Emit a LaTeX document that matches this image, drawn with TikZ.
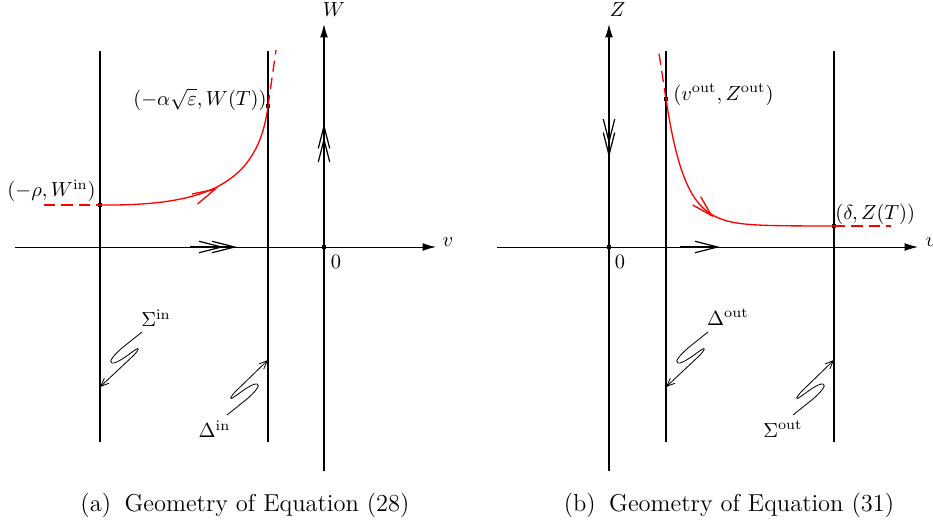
\documentclass[tikz,border=0pt]{standalone}
\usetikzlibrary{arrows.meta}
\begin{document}
\begin{tikzpicture}[x=0.49pt,y=-0.49pt,
  ln/.style={line width=0.6pt},
  haxis/.style={line width=0.5pt,-{Latex[length=6.5pt,width=3.8pt]}},
  vaxis/.style={line width=0.6pt,-{Latex[length=6.5pt,width=3.8pt]}},
  flow/.style={line width=0.6pt,-{Straight Barb[length=11pt,width=5.6pt]}},
  traj/.style={red,line width=0.65pt},
  head/.style={red,line width=0.65pt,line join=miter},
  ext/.style={red,line width=0.65pt,dash pattern=on 5.5pt off 3pt},
  dot/.style={fill=black,inner sep=0pt,minimum size=2.2pt,rectangle},
  lead/.style={line width=0.4pt,-{Straight Barb[length=4pt,width=3.4pt]}},
  lbl/.style={inner sep=0pt},
]
\useasboundingbox (0,0) rectangle (933,523);

% ---------------- left panel ----------------
\coordinate (hLa) at (15,247);
\coordinate (hLb) at (436,247);
\coordinate (wB) at (324,471);
\coordinate (wT) at (324,24);
\coordinate (sLt) at (100,51);
\coordinate (sLb) at (100,442);
\coordinate (dLt) at (268,51);
\coordinate (dLb) at (268,442);

\draw[ln] (sLt) -- (sLb);
\draw[ln] (dLt) -- (dLb);
\draw[haxis] (hLa) -- (hLb);
\draw[vaxis] (wB) -- (wT);

\node (vL) at (448,242) {$v$};
\node (Wl) at (334,10) {$W$};
\node (zeroL) at (336,262) {$0$};
\node[dot] (oL) at (324,247) {};

% flow arrows
\coordinate (fa0) at (190,247);
\coordinate (fa1) at (224,247);
\coordinate (fa2) at (237,247);
\draw[flow] (fa0) -- (fa1);
\draw[flow] (fa0) -- (fa2);
\coordinate (fw0) at (324,190);
\coordinate (fw1) at (324,137);
\coordinate (fw2) at (324,123.5);
\draw[flow] (fw0) -- (fw1);
\draw[flow] (fw0) -- (fw2);

% trajectory
\node[dot] (pA) at (100,205) {};
\node[dot] (pB) at (268,106) {};
\coordinate (eA) at (44,205);
\coordinate (eB) at (276,50);
\draw[ext] (eA) -- (pA.center);
\draw[ext] (pB.center) -- (eB);
\draw[traj] (pA.center) .. controls (205,206) and (258,185) .. (pB.center);
\coordinate (tipL) at (215,189.3);
\draw[head] (192,194) -- (tipL) -- (197.5,204);

\node[lbl, anchor=base east] (lA) at (96,196.5) {$(-\rho, W^{\mathrm{in}})$};
\node[lbl, anchor=base east] (lB) at (267,105) {$(-\alpha\sqrt{\varepsilon}, W(T))$};

% section labels
\node (Sin) at (156,318) {$\Sigma^{\mathrm{in}}$};
\node (Din) at (214.5,429) {$\Delta^{\mathrm{in}}$};
\coordinate (Sin0) at (142,332);
\coordinate (Sin1) at (100,387);
\coordinate (Din0) at (227,415);
\coordinate (Din1) at (268,360);
\draw[lead] (Sin0) -- (122,348) .. controls (114,355) and (108,362) .. (112,363)
  .. controls (117,364) and (129,354) .. (135,350)
  .. controls (141,346) and (138,351) .. (133,356) -- (Sin1);
\draw[lead] (Din0) -- (247,399) .. controls (255,392) and (261,385) .. (257,384)
  .. controls (252,383) and (240,393) .. (234,397)
  .. controls (228,401) and (231,396) .. (236,391) -- (Din1);

\node[anchor=base] (capA) at (245,511) {\large (a)\hspace{0.55em}Geometry of Equation (28)};

% ---------------- right panel ----------------
\coordinate (hRa) at (497,247);
\coordinate (hRb) at (918,247);
\coordinate (zB) at (609,471);
\coordinate (zT) at (609,24);
\coordinate (dRt) at (666,51);
\coordinate (dRb) at (666,442);
\coordinate (sRt) at (834,51);
\coordinate (sRb) at (834,442);

\draw[ln] (dRt) -- (dRb);
\draw[ln] (sRt) -- (sRb);
\draw[haxis] (hRa) -- (hRb);
\draw[vaxis] (zB) -- (zT);

\node (vR) at (931,242) {$v$};
\node (Zl) at (617.5,10) {$Z$};
\node (zeroR) at (620,262) {$0$};
\node[dot] (oR) at (609,247) {};

\coordinate (fr0) at (680,247);
\coordinate (fr1) at (720,247);
\draw[flow] (fr0) -- (fr1);
\coordinate (fz0) at (609,100);
\coordinate (fz1) at (609,144);
\coordinate (fz2) at (609,157.5);
\draw[flow] (fz0) -- (fz1);
\draw[flow] (fz0) -- (fz2);

\node[dot] (pC) at (666,99) {};
\node[dot] (pD) at (834,226) {};
\coordinate (eC) at (658.5,50);
\coordinate (eD) at (891,226);
\draw[ext] (pC.center) -- (eC);
\draw[ext] (pD.center) -- (eD);
\draw[traj] plot[domain=666:834, samples=90] (\x, {226-127*exp(-(\x-666)/19)});
\coordinate (tipR) at (711.5,215.5);
\draw[head] (700.7,196.7) -- (tipR) -- (692.7,205);

\node[lbl, anchor=base west] (lC) at (673,100) {$(v^{\mathrm{out}}, Z^{\mathrm{out}})$};
\node[lbl, anchor=base west] (lD) at (835,219) {$(\delta, Z(T))$};

\node (Dout) at (728,317) {$\Delta^{\mathrm{out}}$};
\node (Sout) at (783,429) {$\Sigma^{\mathrm{out}}$};
\coordinate (Dout0) at (708,332);
\coordinate (Dout1) at (666,387);
\coordinate (Sout0) at (793,415);
\coordinate (Sout1) at (834,360);
\draw[lead] (Dout0) -- (688,348) .. controls (680,355) and (674,362) .. (678,363)
  .. controls (683,364) and (695,354) .. (701,350)
  .. controls (707,346) and (704,351) .. (699,356) -- (Dout1);
\draw[lead] (Sout0) -- (813,399) .. controls (821,392) and (827,385) .. (823,384)
  .. controls (818,383) and (806,393) .. (800,397)
  .. controls (794,401) and (797,396) .. (802,391) -- (Sout1);

\node[anchor=base] (capB) at (729,511) {\large (b)\hspace{0.55em}Geometry of Equation (31)};
\end{tikzpicture}
\end{document}
